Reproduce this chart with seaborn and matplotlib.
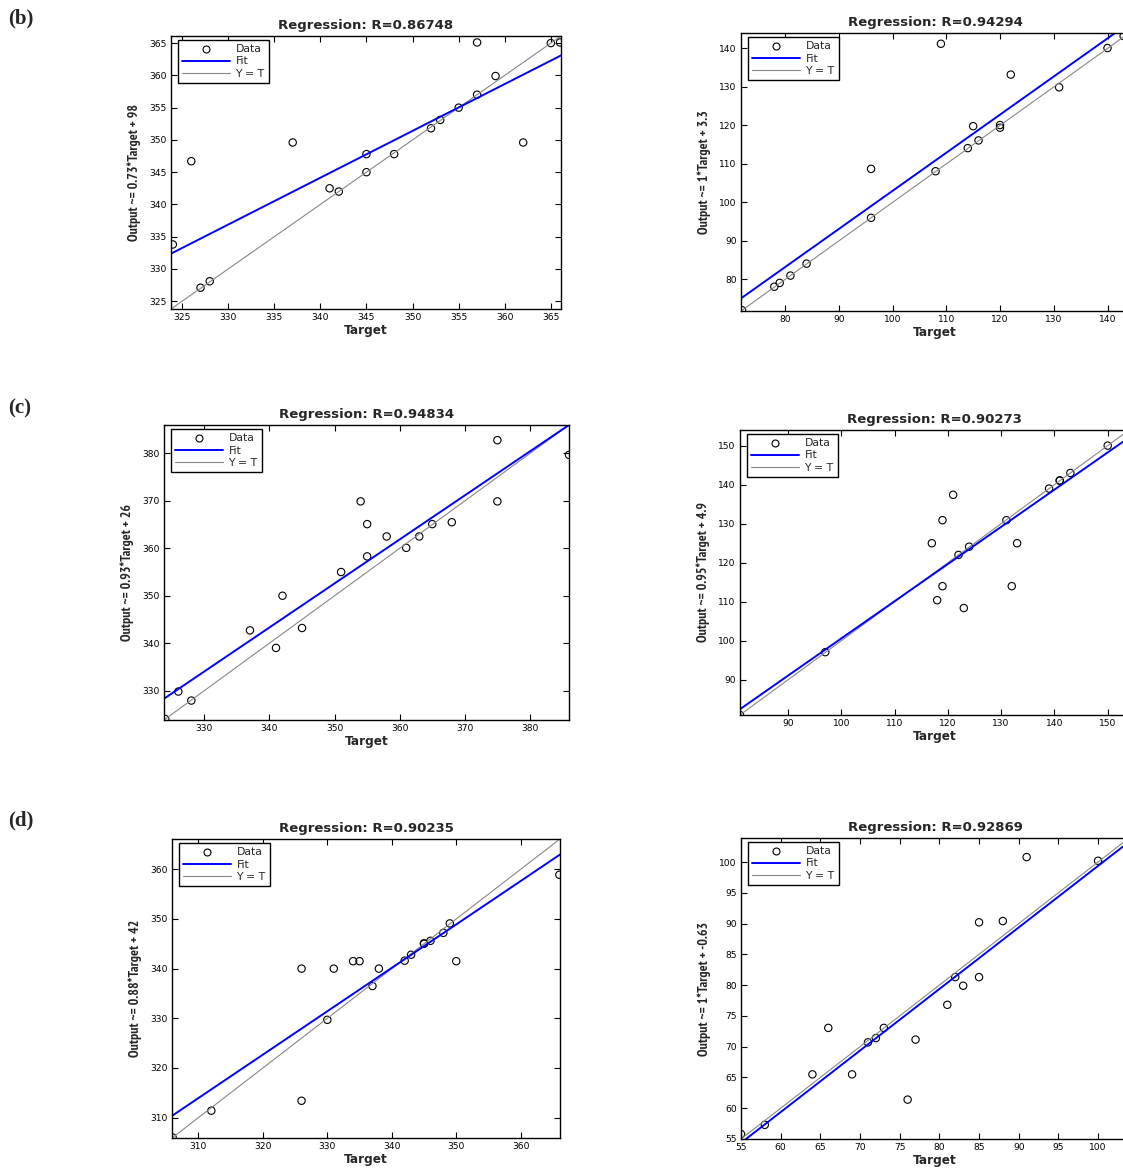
import numpy as np
import pandas as pd
import matplotlib
matplotlib.use("Agg")
import matplotlib.pyplot as plt
import seaborn as sns
from matplotlib.lines import Line2D
from matplotlib import font_manager as fm

sns.set_theme(style="ticks")
plt.rcParams["font.family"] = ["DejaVu Sans"]

# ---- data ----
# (b) left
b1_target = [324, 326, 327, 328, 337, 341, 342, 345, 345, 348, 352, 353, 355, 357, 357, 359, 362, 365, 366]
b1_output = [333.8, 346.7, 327.1, 328.1, 349.6, 342.5, 342.0, 347.8, 345.0, 347.8, 351.8, 353.1, 355.0, 357.0, 365.1, 359.9, 349.6, 365.0, 365.1]
# (b) right
b2_target = [72, 78, 79, 81, 84, 96, 96, 108, 109, 114, 115, 116, 120, 120, 122, 131, 140, 143]
b2_output = [72.0, 78.1, 79.1, 81.0, 84.1, 108.7, 96.0, 108.1, 141.2, 114.1, 119.8, 116.1, 120.1, 119.4, 133.2, 129.9, 140.1, 143.2]
# (c) left
c1_target = [324, 326, 328, 337, 341, 342, 345, 351, 354, 355, 355, 358, 361, 363, 365, 368, 375, 375, 386]
c1_output = [324.0, 329.8, 327.9, 342.7, 339.0, 350.0, 343.2, 355.0, 369.9, 365.1, 358.3, 362.5, 360.1, 362.5, 365.1, 365.5, 382.8, 369.9, 379.7]
# (c) right
c2_target = [81, 97, 117, 118, 119, 119, 121, 122, 123, 124, 131, 132, 133, 139, 141, 141, 143, 150]
c2_output = [81.0, 97.1, 125.0, 110.4, 130.9, 114.0, 137.4, 122.0, 108.4, 124.1, 130.9, 114.0, 125.0, 139.0, 141.0, 141.1, 143.0, 150.0]
# (d) left
d1_target = [306, 312, 326, 326, 330, 331, 334, 335, 337, 338, 342, 343, 345, 345, 346, 348, 349, 350, 366]
d1_output = [306.0, 311.4, 340.0, 313.4, 329.7, 340.0, 341.5, 341.5, 336.5, 340.0, 341.6, 342.8, 345.0, 345.1, 345.6, 347.2, 349.1, 341.5, 358.9]
# (d) right
d2_target = [55, 58, 64, 66, 69, 71, 72, 73, 76, 77, 81, 82, 83, 85, 85, 88, 91, 100, 104]
d2_output = [55.8, 57.3, 65.5, 73.05, 65.5, 70.7, 71.4, 73.05, 61.4, 71.15, 76.8, 81.3, 79.9, 90.2, 81.3, 90.4, 100.8, 100.2, 100.4]

# fitted line (slope, intercept) as drawn
fit_coefs = [(0.726, 97.3), (0.99, 4.0), (0.928, 27.8), (0.953, 5.3), (0.874, 43.0), (1.0, -0.63)]
r_values = ["0.86748", "0.94294", "0.94834", "0.90273", "0.90235", "0.92869"]
ylabels = ["Output ~= 0.73*Target + 98", "Output ~= 1*Target + 3.3",
           "Output ~= 0.93*Target + 26", "Output ~= 0.95*Target + 4.9",
           "Output ~= 0.88*Target + 42", "Output ~= 1*Target + -0.63"]
limits = [(323.8, 366.1), (71.8, 144), (323.8, 386), (81, 154), (305.9, 366.1), (55, 103.9)]
ticks = [np.arange(325, 366, 5), np.arange(80, 141, 10), np.arange(330, 381, 10),
         np.arange(90, 151, 10), np.arange(310, 361, 10), np.arange(55, 101, 5)]
panel_letters = ["(b)", "(c)", "(d)"]

series = [(b1_target, b1_output), (b2_target, b2_output), (c1_target, c1_output),
          (c2_target, c2_output), (d1_target, d1_output), (d2_target, d2_output)]

# narrow bold sans for the y labels if there is one, else plain Liberation Sans bold
ylab_font = fm.FontProperties(family="Liberation Sans", weight="bold", size=8.2)
for f in fm.fontManager.ttflist:
    if ("Sans Narrow" in f.name and (f.weight in ("bold", 700) or "Bold" in f.fname)
            and "Italic" not in f.fname):
        ylab_font = fm.FontProperties(fname=f.fname, size=10.0)
        break

# axes boxes in pixels: left, top, right, bottom
W, H = 1123, 1171
boxes = [(171, 36, 561, 309), (741, 33, 1129, 311),
         (164, 425, 569, 720), (740, 430, 1129, 715),
         (172, 839, 560, 1138), (741, 838, 1129, 1139)]

fig = plt.figure(figsize=(W / 100, H / 100), dpi=100)

for i, (tgt, out) in enumerate(series):
    l, t, r, b = boxes[i]
    ax = fig.add_axes([l / W, 1 - b / H, (r - l) / W, (b - t) / H])
    lo, hi = limits[i]
    slope, icpt = fit_coefs[i]

    df = pd.DataFrame({"Target": tgt, "Output": out})
    line_x = np.array([lo, hi])

    sns.lineplot(x=line_x, y=line_x, ax=ax, color="#888888", lw=0.8, legend=False)
    sns.lineplot(x=line_x, y=slope * line_x + icpt, ax=ax, color="#0000ff", lw=1.4, legend=False)
    sns.scatterplot(data=df, x="Target", y="Output", ax=ax, marker="o", s=28,
                    facecolors="none", edgecolor="black", linewidth=0.8, legend=False)

    ax.set_xlim(lo, hi)
    ax.set_ylim(lo, hi)
    ax.set_xticks(ticks[i])
    ax.set_yticks(ticks[i])
    ax.tick_params(direction="in", top=True, right=True, length=4, width=0.8,
                   labelsize=6.6, pad=3, colors="black")
    for sp in ax.spines.values():
        sp.set_linewidth(1.0)
        sp.set_color("black")

    ax.set_title("Regression: R=" + r_values[i], fontsize=9.5, fontweight="bold", pad=5)
    ax.set_xlabel("Target", fontsize=8.7, fontweight="bold", labelpad=1)
    ax.set_ylabel(ylabels[i], fontproperties=ylab_font, labelpad=6)

    handles = [Line2D([], [], ls="", marker="o", mfc="none", mec="black", ms=5, mew=0.8),
               Line2D([], [], color="#0000ff", lw=1.4),
               Line2D([], [], color="#888888", lw=0.8)]
    w_ax = r - l
    h_ax = b - t
    leg = ax.legend(handles, ["Data", "Fit", "Y = T"], loc="upper left",
                    bbox_to_anchor=(7 / w_ax, 1 - 4 / h_ax), borderaxespad=0,
                    fontsize=7.8, handlelength=4.4, handletextpad=0.5,
                    labelspacing=0.2, borderpad=0.4, fancybox=False,
                    framealpha=1, edgecolor="black")
    leg.get_frame().set_linewidth(1.0)

for k, (letter, y) in enumerate(zip(panel_letters, [18, 408, 820])):
    fig.text(8 / W, 1 - y / H, letter, fontsize=15, fontweight="bold",
             family=["Liberation Serif", "DejaVu Serif"], va="center", ha="left")

fig.savefig("out.png", dpi=100)
